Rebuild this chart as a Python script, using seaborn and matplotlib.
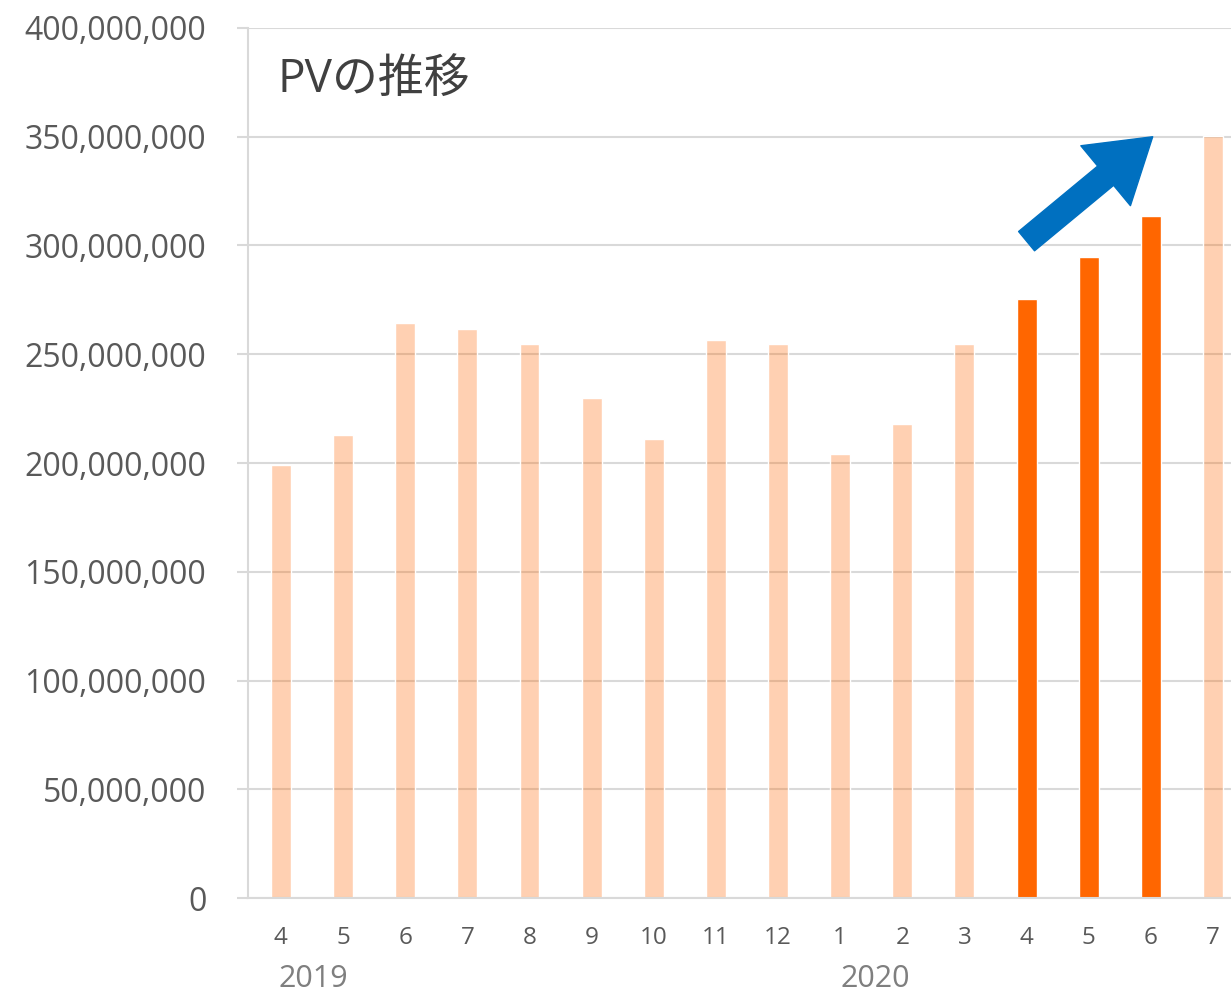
import matplotlib
matplotlib.use("Agg")
import matplotlib.pyplot as plt
import matplotlib.ticker as mticker
import pandas as pd
import seaborn as sns

# monthly PV, Apr 2019 - Jul 2020
periods = ["2019-04", "2019-05", "2019-06", "2019-07", "2019-08", "2019-09", "2019-10", "2019-11",
           "2019-12", "2020-01", "2020-02", "2020-03", "2020-04", "2020-05", "2020-06", "2020-07"]
months = ["4", "5", "6", "7", "8", "9", "10", "11", "12", "1", "2", "3", "4", "5", "6", "7"]
pv = [199e6, 213e6, 264.5e6, 261.5e6, 254.5e6, 230e6, 211e6, 256.5e6,
      254.5e6, 204e6, 218e6, 254.5e6, 275.5e6, 294.5e6, 313.5e6, 350.3e6]
highlight = [False] * 12 + [True] * 3 + [False]
years = ["2019", "2020"]
year_pos = [0.52, 9.56]

GRID = "#D9D9D9"
TEXT = "#595959"

sns.set_style("white")
plt.rcParams["font.family"] = ["Open Sans", "Noto Sans CJK JP", "DejaVu Sans"]

df = pd.DataFrame(dict(period=periods, pv=pv, highlight=highlight))

fig = plt.figure(figsize=(12.31, 9.96), dpi=100)
ax = fig.add_axes([248 / 1231, 98 / 996, 1 - 248 / 1231, 870 / 996])
ax.set_axisbelow(True)
ax.yaxis.grid(True, color=GRID, linewidth=1.5)

sns.barplot(data=df, x="period", y="pv", hue="highlight", order=periods,
            palette={False: "#FF66004D", True: "#FF6600"}, dodge=False,
            width=0.32, legend=False, saturation=1, ax=ax)

ax.set_ylim(0, 400e6)
ax.set_xlim(-0.53, 15.29)
ax.yaxis.set_major_locator(mticker.MultipleLocator(50e6))
ax.yaxis.set_major_formatter(mticker.StrMethodFormatter("{x:,.0f}"))
ax.set_xticks(range(len(months)))
ax.set_xticklabels(months)
ax.set_xlabel("")
ax.set_ylabel("")

for side in ("top", "right"):
    ax.spines[side].set_visible(False)
for side in ("left", "bottom"):
    ax.spines[side].set_color(GRID)
    ax.spines[side].set_linewidth(1.5)

ax.tick_params(axis="y", left=True, length=8, width=1.5, color=GRID, pad=22,
               labelsize=23, labelcolor=TEXT)
ax.tick_params(axis="x", bottom=False, length=0, pad=20, labelsize=17.5, labelcolor=TEXT)

for yr, xp in zip(years, year_pos):
    ax.text(xp, -0.093, yr, transform=ax.get_xaxis_transform(), ha="center", va="center",
            fontsize=22, color="#7F7F7F")

ax.text(0.03, 0.94, "PVの推移", transform=ax.transAxes, ha="left", va="center",
        fontsize=33, color="#404040")

ax.annotate("", xy=(14.03, 350e6), xytext=(12.0, 302e6),
            arrowprops=dict(width=18, headwidth=56, headlength=44, shrink=0,
                            facecolor="#0070C0", edgecolor="#0070C0", joinstyle="round"))

fig.savefig("out.png", dpi=100)
